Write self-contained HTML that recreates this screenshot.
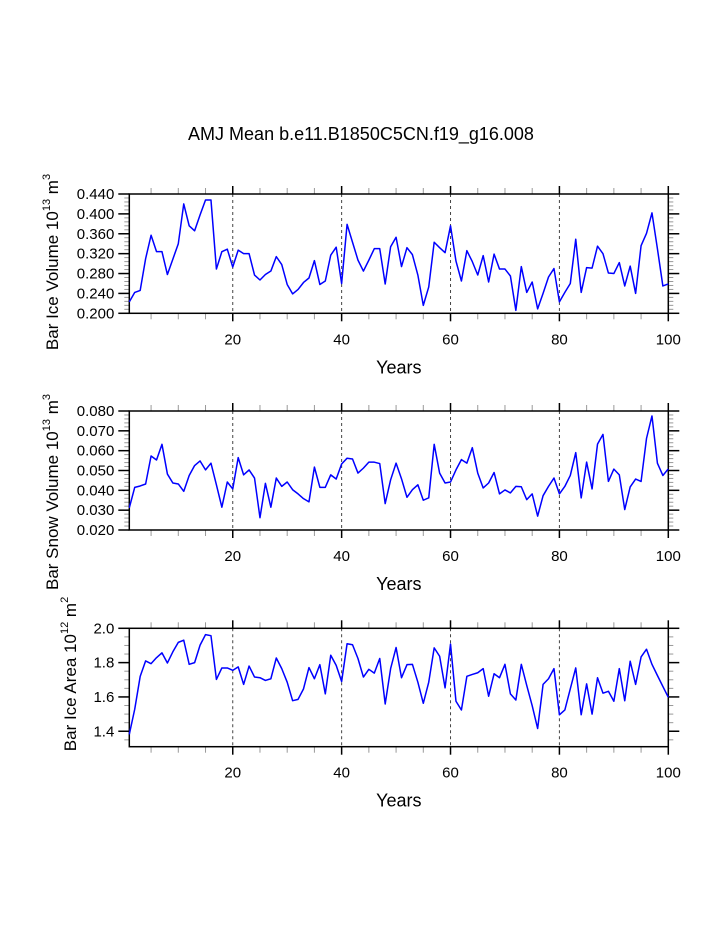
<!DOCTYPE html>
<html><head><meta charset="utf-8"><style>
html,body{margin:0;padding:0;background:#fff;}
svg{display:block;font-family:"Liberation Sans",Arial,sans-serif;}
</style></head><body>
<svg id="chart" width="723" height="935" xmlns="http://www.w3.org/2000/svg">
<text x="361" y="140" font-size="18" text-anchor="middle">AMJ Mean b.e11.B1850C5CN.f19_g16.008</text>
</svg>
<script>
const years = Array.from({length:100},(_, i)=>i+1);
const iceVolume = [0.223,0.242,0.246,0.310,0.357,0.324,0.324,0.278,0.309,0.340,0.420,0.376,0.366,0.398,0.428,0.428,0.289,0.324,0.329,0.293,0.327,0.320,0.320,0.277,0.267,0.278,0.285,0.314,0.298,0.258,0.239,0.248,0.262,0.271,0.306,0.258,0.265,0.317,0.333,0.260,0.379,0.343,0.307,0.285,0.307,0.330,0.330,0.259,0.334,0.353,0.294,0.332,0.318,0.277,0.216,0.253,0.343,0.332,0.322,0.376,0.305,0.265,0.326,0.304,0.277,0.316,0.263,0.319,0.289,0.289,0.275,0.206,0.294,0.242,0.263,0.209,0.240,0.273,0.290,0.223,0.242,0.260,0.349,0.242,0.292,0.291,0.335,0.320,0.281,0.280,0.302,0.255,0.295,0.240,0.336,0.361,0.402,0.330,0.255,0.259];
const snowVolume = [0.0312,0.0415,0.0422,0.0432,0.0573,0.0553,0.0632,0.0482,0.0437,0.0432,0.0395,0.0475,0.0525,0.0548,0.0503,0.0537,0.0428,0.0315,0.0442,0.0407,0.0565,0.0478,0.0503,0.0462,0.0262,0.0435,0.0315,0.0462,0.0420,0.0442,0.0403,0.0382,0.0358,0.0342,0.0517,0.0415,0.0415,0.0478,0.0457,0.0533,0.0562,0.0558,0.0487,0.0512,0.0542,0.0542,0.0535,0.0333,0.0453,0.0537,0.0458,0.0365,0.0403,0.0428,0.0350,0.0362,0.0632,0.0487,0.0437,0.0442,0.0503,0.0555,0.0537,0.0615,0.0487,0.0412,0.0437,0.0490,0.0382,0.0402,0.0387,0.0420,0.0418,0.0353,0.0382,0.0270,0.0373,0.0420,0.0462,0.0382,0.0420,0.0475,0.0590,0.0362,0.0542,0.0407,0.0633,0.0682,0.0445,0.0507,0.0478,0.0303,0.0417,0.0457,0.0445,0.0662,0.0775,0.0537,0.0475,0.0508];
const iceArea = [1.382,1.529,1.720,1.810,1.794,1.829,1.857,1.798,1.863,1.918,1.931,1.790,1.800,1.902,1.963,1.957,1.702,1.769,1.769,1.755,1.775,1.673,1.780,1.716,1.712,1.696,1.706,1.827,1.765,1.686,1.578,1.586,1.647,1.771,1.706,1.788,1.618,1.843,1.784,1.690,1.910,1.904,1.824,1.716,1.761,1.739,1.824,1.559,1.765,1.888,1.712,1.788,1.790,1.686,1.563,1.686,1.886,1.837,1.653,1.908,1.575,1.524,1.720,1.731,1.741,1.765,1.604,1.735,1.712,1.790,1.618,1.582,1.790,1.667,1.549,1.416,1.673,1.706,1.765,1.496,1.524,1.647,1.769,1.496,1.676,1.500,1.712,1.622,1.633,1.575,1.765,1.578,1.808,1.673,1.833,1.878,1.790,1.725,1.661,1.598];
const xTickLabels = [20,40,60,80,100];
const iceVolTicks = ["0.440","0.400","0.360","0.320","0.280","0.240","0.200"];
const snowTicks = ["0.080","0.070","0.060","0.050","0.040","0.030","0.020"];
const areaTicks = ["2.0","1.8","1.6","1.4"];

const svg = document.getElementById('chart');
const NS = 'http://www.w3.org/2000/svg';
function mk(tag, attrs, parent){const e=document.createElementNS(NS,tag);for(const k in attrs)e.setAttribute(k,attrs[k]);(parent||svg).appendChild(e);return e;}
const L=129.3, R=668.3;
function xs(v){return L+(v-1)*(R-L)/99;}

function panel(cfg){
  const g = mk('g',{});
  
  
  const T=cfg.top,B=cfg.bottom;
  const ys = v => B-(v-cfg.ymin)*(B-T)/(cfg.ymax-cfg.ymin);
  xTickLabels.slice(0,4).forEach(v=>{
    const l=mk('line',{x1:xs(v),x2:xs(v),y1:T,y2:B,stroke:'#444','stroke-width':1,'stroke-dasharray':'3,3'},g);
    
    
  });
  for(let v=5; v<=100; v+=5){
    const major = v%20===0;
    const len = major?8:6;
    mk('line',{x1:xs(v),x2:xs(v),y1:B,y2:B+len,stroke:major?'#000':'#999','stroke-width':major?1.5:1},g);
    mk('line',{x1:xs(v),x2:xs(v),y1:T,y2:T-len,stroke:major?'#000':'#999','stroke-width':major?1.5:1},g);
  }
  for(let v=cfg.ymin0; v<=cfg.ymax+1e-9; v+=cfg.minor){
    const y=ys(v);
    if(y>B+0.5) continue;
    mk('line',{x1:L-5,x2:L,y1:y,y2:y,stroke:'#999','stroke-width':1},g);
    mk('line',{x1:R,x2:R+5,y1:y,y2:y,stroke:'#999','stroke-width':1},g);
  }
  cfg.ticks.forEach(t=>{
    const y=ys(parseFloat(t));
    mk('line',{x1:L-11,x2:L,y1:y,y2:y,stroke:'#000','stroke-width':1.5},g);
    mk('line',{x1:R,x2:R+11,y1:y,y2:y,stroke:'#000','stroke-width':1.5},g);
    const tx=mk('text',{x:L-15,y:y+5,'font-size':15,'text-anchor':'end'},g);
    tx.textContent=t;
    
    
  });
  xTickLabels.forEach(v=>{
    const tx=mk('text',{x:xs(v),y:B+31,'font-size':15,'text-anchor':'middle'},g);
    tx.textContent=v;
    
    
  });
  const fr=mk('rect',{x:L,y:T,width:R-L,height:B-T,fill:'none',stroke:'#000','stroke-width':1.5},g);
  
  
  const pts = cfg.data.map((v,i)=>xs(years[i]).toFixed(2)+','+ys(v).toFixed(2)).join(' ');
  const pl=mk('polyline',{points:pts,fill:'none',stroke:'#0000ff','stroke-width':1.5,'stroke-linejoin':'round'},g);
  
  
  const xt=mk('text',{x:(L+R)/2,y:B+60,'font-size':18,'text-anchor':'middle'},g);
  xt.textContent='Years';
  
  
  const yt=mk('text',{x:0,y:0,'font-size':17,'text-anchor':'middle',transform:`translate(${cfg.tx},${cfg.ty}) rotate(-90)`},g);
  yt.innerHTML = cfg.title;
  
  
}
panel({name:'ice-volume-panel',top:194,bottom:313.3,ymin:0.2,ymax:0.44,ymin0:0.2,minor:0.008,ticks:iceVolTicks,data:iceVolume,tx:58,ty:262,
  title:'Bar Ice Volume 10<tspan font-size="11" dy="-8">13</tspan><tspan dy="8"> m</tspan><tspan font-size="11" dy="-8">3</tspan>'});
panel({name:'snow-volume-panel',top:411,bottom:530,ymin:0.02,ymax:0.08,ymin0:0.02,minor:0.002,ticks:snowTicks,data:snowVolume,tx:58,ty:492,
  title:'Bar Snow Volume 10<tspan font-size="11" dy="-8">13</tspan><tspan dy="8"> m</tspan><tspan font-size="11" dy="-8">3</tspan>'});
panel({name:'ice-area-panel',top:628.3,bottom:746.7,ymin:1.31,ymax:2.0,ymin0:1.35,minor:0.05,ticks:areaTicks,data:iceArea,tx:76,ty:674,
  title:'Bar Ice Area 10<tspan font-size="11" dy="-8">12</tspan><tspan dy="8"> m</tspan><tspan font-size="11" dy="-8">2</tspan>'});
</script>
</body></html>
